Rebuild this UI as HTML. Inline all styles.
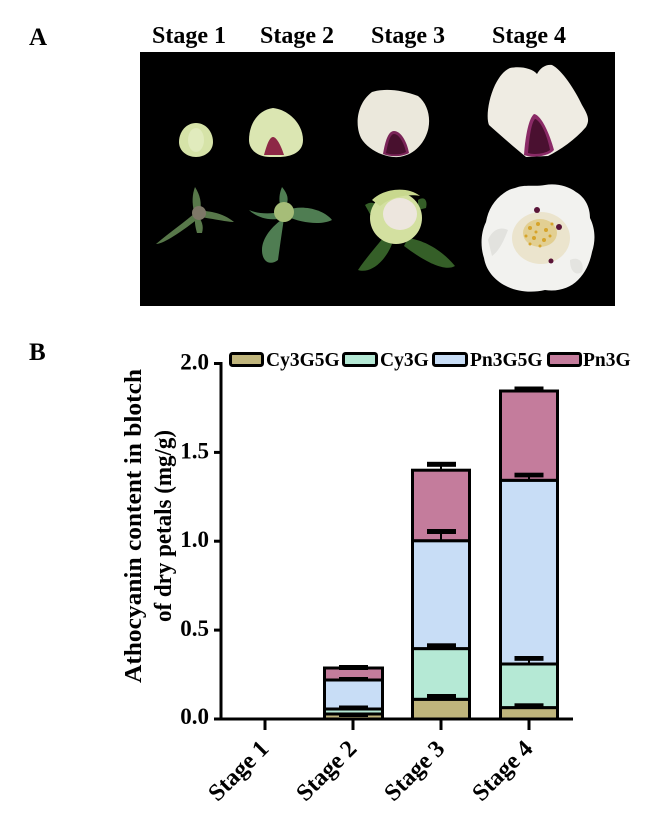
<!DOCTYPE html>
<html><head><meta charset="utf-8"><style>
html,body{margin:0;padding:0;background:#fff;}
svg{display:block;}
text{font-family:"Liberation Serif","Times New Roman",serif;font-weight:bold;fill:#000;}
</style></head><body>
<svg width="672" height="818" viewBox="0 0 672 818" xmlns="http://www.w3.org/2000/svg">
<rect width="672" height="818" fill="#fff"/>
<!-- Panel A -->
<text x="29" y="45" font-size="25">A</text>
<text x="152" y="43" font-size="24">Stage 1</text>
<text x="260" y="43" font-size="24">Stage 2</text>
<text x="371" y="43" font-size="24">Stage 3</text>
<text x="492" y="43" font-size="24">Stage 4</text>
<rect x="140" y="52" width="475" height="254" fill="#000"/>

<!-- Stage 1 petal -->
<path d="M196,123 C206,123 213,132 213,142 C213,151 205,157 196,157 C187,157 179,151 179,142 C179,132 186,123 196,123 Z" fill="#d6e3a8"/>
<ellipse cx="196" cy="140" rx="8" ry="12" fill="#e1ebbd"/>
<!-- Stage 2 petal -->
<path d="M273,108 C290,110 303,125 303,140 C303,152 292,157 278,157 L270,157 C258,157 249,150 249,140 C249,124 258,110 273,108 Z" fill="#dbe6b2"/>
<path d="M273,137 C277,137 282,148 284,155 L264,155 C266,148 269,137 273,137 Z" fill="#8d2846"/>
<!-- Stage 3 petal -->
<path d="M372,92 C385,88 402,90 418,96 C428,104 431,118 428,130 C424,145 412,156 398,157 C385,158 368,150 361,138 C355,126 356,104 372,92 Z" fill="#ebe8dc"/>
<path d="M394,131 C401,131 407,142 409,153 C402,157 390,157 383,154 C385,142 388,131 394,131 Z" fill="#7a2458"/>
<path d="M394,134 C399,134 404,143 406,152 C400,155 391,155 386,153 C388,143 390,134 394,134 Z" fill="#48102e"/>
<!-- Stage 4 petal -->
<path d="M510,68 C520,66 532,68 537,74 C540,68 546,64 552,65 C562,70 575,90 582,105 C588,115 590,120 586,127 C575,140 560,150 548,156 L526,157 C515,148 500,135 489,125 C486,118 488,100 495,85 C500,75 505,70 510,68 Z" fill="#efece3"/>
<path d="M534,114 C541,115 549,132 554,150 C548,157 531,158 524,155 C525,140 528,119 534,114 Z" fill="#8a2a66"/>
<path d="M535,119 C540,120 547,134 550,150 C545,154 533,155 528,153 C529,140 531,123 535,119 Z" fill="#4a1030"/>

<!-- Stage 1 bud -->
<g fill="#58784a">
<path d="M196,212 C185,222 170,232 156,244 C162,244 176,236 199,218 Z"/>
<path d="M200,210 C210,212 222,212 234,222 C228,222 214,219 200,217 Z"/>
<path d="M195,187 C200,195 202,203 200,212 L194,212 C192,203 192,195 195,187 Z"/>
<path d="M196,214 C202,220 204,226 202,233 L197,233 C195,226 194,220 196,214 Z"/>
</g>
<circle cx="199" cy="213" r="7" fill="#7e7868"/>
<!-- Stage 2 bud -->
<g fill="#4f7d52">
<path d="M282,212 C270,214 258,214 249,210 C255,216 268,222 282,218 Z"/>
<path d="M288,210 C300,205 322,208 332,220 C320,226 300,222 288,217 Z"/>
<path d="M284,218 C282,232 280,245 278,260 C270,266 262,262 262,250 C262,238 272,226 284,218 Z"/>
<path d="M282,187 C288,194 289,200 286,205 L280,205 C279,200 279,194 282,187 Z"/>
</g>
<circle cx="284" cy="212" r="10" fill="#a6bd78"/>
<!-- Stage 3 bud -->
<g fill="#355f28">
<path d="M383,238 C375,248 366,258 358,270 C370,274 385,262 392,244 Z"/>
<path d="M408,238 C422,240 440,248 455,266 C445,272 425,262 404,246 Z"/>
<path d="M365,205 C372,200 378,204 380,210 L370,214 Z"/>
<path d="M418,200 C424,196 428,200 426,208 L418,210 Z"/>
</g>
<circle cx="396" cy="218" r="26" fill="#d3e0a0"/>
<ellipse cx="400" cy="214" rx="17" ry="16" fill="#ede6de"/>
<path d="M372,200 C384,188 408,186 420,196 C410,194 392,196 380,206 Z" fill="#c8d88e"/>
<!-- Stage 4 flower -->
<path d="M515,188 C525,184 535,187 545,185 C556,183 568,186 576,192 C586,198 590,208 590,218 C595,228 596,240 592,252 C590,262 586,272 578,280 C570,288 558,292 545,290 C532,293 518,292 506,286 C494,280 486,270 484,258 C480,246 481,232 486,222 C488,210 494,200 504,193 C508,190 511,189 515,188 Z" fill="#f2f2ef"/>
<path d="M488,240 C492,230 500,226 508,230 C504,240 500,250 492,256 Z" fill="#e2e2de"/>
<path d="M570,260 C578,256 585,262 582,272 C576,276 570,272 570,260 Z" fill="#e4e4e0"/>
<ellipse cx="541" cy="238" rx="29" ry="26" fill="#ebe4cd"/>
<ellipse cx="540" cy="233" rx="17" ry="14" fill="#e2cf92"/>
<g fill="#d6a42a">
<circle cx="530" cy="228" r="2"/><circle cx="538" cy="224" r="2"/><circle cx="546" cy="230" r="2"/>
<circle cx="534" cy="238" r="2"/><circle cx="544" cy="240" r="2"/><circle cx="526" cy="236" r="1.5"/>
<circle cx="550" cy="236" r="1.5"/><circle cx="540" cy="246" r="1.5"/><circle cx="530" cy="244" r="1.5"/>
<circle cx="552" cy="224" r="1.5"/><circle cx="536" cy="232" r="1.5"/>
</g>
<circle cx="537" cy="210" r="3" fill="#5a1538"/>
<circle cx="559" cy="227" r="3" fill="#5a1538"/>
<circle cx="551" cy="261" r="2.5" fill="#5a1538"/>

<!-- Panel B -->
<text x="29" y="360" font-size="25">B</text>
<!-- Y label -->
<text transform="translate(141,526) rotate(-90)" text-anchor="middle" font-size="24" textLength="314" lengthAdjust="spacingAndGlyphs">Athocyanin content in blotch</text>
<text transform="translate(171,526) rotate(-90)" text-anchor="middle" font-size="24" textLength="192" lengthAdjust="spacingAndGlyphs">of dry petals (mg/g)</text>

<!-- Legend -->
<rect x="230.5" y="353.5" width="32" height="12" rx="2" fill="#c0b57c" stroke="#000" stroke-width="3"/>
<text x="266" y="366" font-size="19.5">Cy3G5G</text>
<rect x="343.5" y="353.5" width="33" height="12" rx="2" fill="#b5e9d5" stroke="#000" stroke-width="3"/>
<text x="380" y="366" font-size="19.5">Cy3G</text>
<rect x="433.5" y="353.5" width="33" height="12" rx="2" fill="#c8ddf6" stroke="#000" stroke-width="3"/>
<text x="470" y="366" font-size="19.5">Pn3G5G</text>
<rect x="548.5" y="353.5" width="32" height="12" rx="2" fill="#c47c9c" stroke="#000" stroke-width="3"/>
<text x="583" y="366" font-size="19.5">Pn3G</text>

<!-- Bars -->
<g stroke="#000" stroke-width="3">
<rect x="324.5" y="714" width="58" height="5" fill="#c0b57c"/>
<rect x="324.5" y="709" width="58" height="5" fill="#b5e9d5"/>
<rect x="324.5" y="680" width="58" height="29" fill="#c8ddf6"/>
<rect x="324.5" y="668" width="58" height="12" fill="#c47c9c"/>
<rect x="412.5" y="699.3" width="57" height="19.7" fill="#c0b57c"/>
<rect x="412.5" y="648.6" width="57" height="50.7" fill="#b5e9d5"/>
<rect x="412.5" y="540.7" width="57" height="107.9" fill="#c8ddf6"/>
<rect x="412.5" y="470.2" width="57" height="70.5" fill="#c47c9c"/>
<rect x="500.5" y="707.6" width="57" height="11.4" fill="#c0b57c"/>
<rect x="500.5" y="664" width="57" height="43.6" fill="#b5e9d5"/>
<rect x="500.5" y="480.3" width="57" height="183.7" fill="#c8ddf6"/>
<rect x="500.5" y="391" width="57" height="89.3" fill="#c47c9c"/>
</g>
<!-- Error bars -->
<g fill="#000">
<rect x="339" y="665" width="29" height="5"/>
<rect x="339" y="677" width="29" height="4"/>
<rect x="339" y="705.5" width="29" height="4.5"/>
<rect x="339" y="713" width="29" height="4"/>
<rect x="427" y="694" width="29" height="5"/>
<rect x="427" y="643.3" width="29" height="5"/>
<rect x="427" y="529" width="29" height="5"/>
<rect x="440" y="533" width="2" height="8"/>
<rect x="427" y="461.8" width="29" height="5"/>
<rect x="440" y="466" width="2" height="5"/>
<rect x="514.5" y="703.3" width="29" height="5"/>
<rect x="514.5" y="656" width="29" height="4.8"/>
<rect x="528" y="660" width="2" height="5"/>
<rect x="514.5" y="472.7" width="29" height="4.7"/>
<rect x="528" y="477" width="2" height="4"/>
<rect x="514.5" y="386.5" width="29" height="5"/>
</g>

<!-- Axes -->
<g stroke="#000" stroke-width="3" fill="none">
<line x1="221" y1="362" x2="221" y2="720.5"/>
<line x1="219.5" y1="719" x2="573" y2="719"/>
<line x1="214" y1="363.5" x2="221" y2="363.5"/>
<line x1="214" y1="452.4" x2="221" y2="452.4"/>
<line x1="214" y1="541.2" x2="221" y2="541.2"/>
<line x1="214" y1="630.1" x2="221" y2="630.1"/>
<line x1="214" y1="719" x2="221" y2="719"/>
<line x1="265" y1="719" x2="265" y2="730"/>
<line x1="353" y1="719" x2="353" y2="730"/>
<line x1="441" y1="719" x2="441" y2="730"/>
<line x1="529" y1="719" x2="529" y2="730"/>
</g>
<g font-size="23" text-anchor="end">
<text x="209" y="369.5">2.0</text>
<text x="209" y="458.4">1.5</text>
<text x="209" y="547.2">1.0</text>
<text x="209" y="636.1">0.5</text>
<text x="209" y="724">0.0</text>
</g>
<g font-size="24" text-anchor="end">
<text transform="translate(270,750) rotate(-45)">Stage 1</text>
<text transform="translate(358,750) rotate(-45)">Stage 2</text>
<text transform="translate(446,750) rotate(-45)">Stage 3</text>
<text transform="translate(534,750) rotate(-45)">Stage 4</text>
</g>
</svg>
</body></html>
